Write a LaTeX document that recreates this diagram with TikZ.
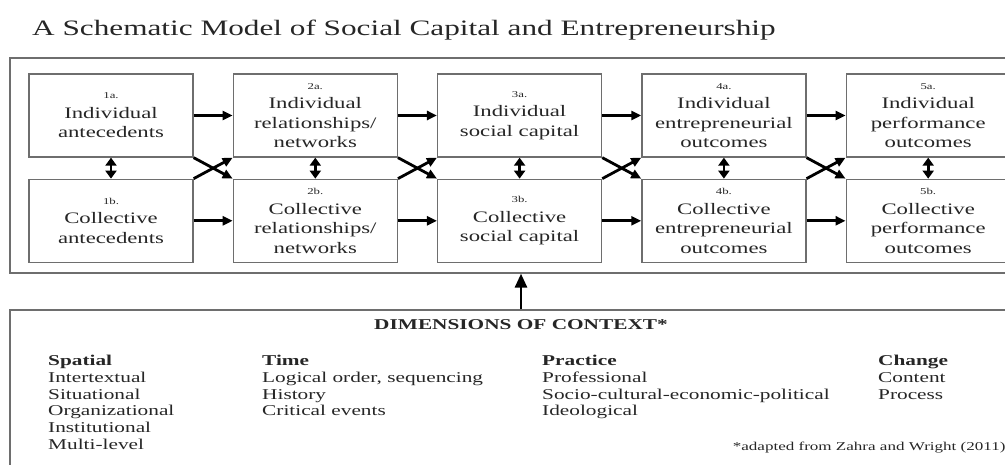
\documentclass[tikz,border=0pt]{standalone}
\usepackage{fontspec}
\setmainfont[FakeStretch=1.42]{Liberation Serif}
\usetikzlibrary{arrows.meta,positioning}
\definecolor{frameline}{HTML}{6E6E6E}
\definecolor{ink}{HTML}{262626}

\newcommand{\stepno}[1]{{\fontsize{9}{11}\selectfont #1}}

\begin{document}
\begin{tikzpicture}[x=1pt, y=-1pt,
  every node/.style={text=ink},
  cell/.style={rectangle, draw=frameline, line width=1.3pt, fill=white,
               minimum width=164pt, minimum height=83pt, align=center,
               inner sep=2pt, font=\fontsize{16}{19.5}\selectfont},
  panel/.style={rectangle, draw=frameline, line width=1.3pt,
                minimum width=1022pt, inner sep=0pt},
  flow/.style={-{Triangle[length=10pt,width=9pt]}, line width=2.8pt},
  link/.style={{Triangle[length=8pt,width=11pt]}-{Triangle[length=8pt,width=11pt]},
               line width=2.8pt},
  col/.style={anchor=north west, align=left, inner sep=0pt,
              font=\fontsize{15}{16.7}\selectfont},
]
\clip (0,0) rectangle (1005,465);

\node[anchor=base west, inner sep=0pt, font=\fontsize{22}{25}\selectfont] (title) at (32,36)
  {A Schematic Model of Social Capital and Entrepreneurship};

% the two outer panels
\node[panel, minimum height=215pt] (frame) at (521,165.5) {};
\node[panel, minimum height=170pt] (context) at (521,395) {};

% individual row
\node[cell] (I1) at (111,115.5) {\stepno{1a.}\\Individual\\antecedents};
\node[cell, right=39pt of I1] (I2) {\stepno{2a.}\\Individual\\relationships/\\networks};
\node[cell, right=39pt of I2] (I3) {\stepno{3a.}\\Individual\\social capital};
\node[cell, right=39pt of I3] (I4) {\stepno{4a.}\\Individual\\entrepreneurial\\outcomes};
\node[cell, right=39pt of I4] (I5) {\stepno{5a.}\\Individual\\performance\\outcomes};

% collective row
\node[cell, below=21pt of I1] (C1) {\stepno{1b.}\\Collective\\antecedents};
\node[cell, below=21pt of I2] (C2) {\stepno{2b.}\\Collective\\relationships/\\networks};
\node[cell, below=21pt of I3] (C3) {\stepno{3b.}\\Collective\\social capital};
\node[cell, below=21pt of I4] (C4) {\stepno{4b.}\\Collective\\entrepreneurial\\outcomes};
\node[cell, below=21pt of I5] (C5) {\stepno{5b.}\\Collective\\performance\\outcomes};

\draw[flow] (I1) -- (I2);
\draw[flow] (I2) -- (I3);
\draw[flow] (I3) -- (I4);
\draw[flow] (I4) -- (I5);
\draw[flow] (C1) -- (C2);
\draw[flow] (C2) -- (C3);
\draw[flow] (C3) -- (C4);
\draw[flow] (C4) -- (C5);

% crossing links between the rows
\draw[flow] (I1.south east) -- (C2.north west);
\draw[flow] (C1.north east) -- (I2.south west);
\draw[flow] (I2.south east) -- (C3.north west);
\draw[flow] (C2.north east) -- (I3.south west);
\draw[flow] (I3.south east) -- (C4.north west);
\draw[flow] (C3.north east) -- (I4.south west);
\draw[flow] (I4.south east) -- (C5.north west);
\draw[flow] (C4.north east) -- (I5.south west);

\draw[link] (I1) -- (C1);
\draw[link] (I2) -- (C2);
\draw[link] (I3) -- (C3);
\draw[link] (I4) -- (C4);
\draw[link] (I5) -- (C5);

\draw[-{Triangle[length=14pt,width=12pt]}, line width=2.8pt] (context.north) -- (frame.south);

% context dimensions
\node[anchor=base, font=\bfseries\fontsize{15}{18}\selectfont] (dims) at (521,330)
  {DIMENSIONS OF CONTEXT*};
\node[col] (spatial) at (48,355)
  {\textbf{Spatial}\\Intertextual\\Situational\\Organizational\\Institutional\\Multi-level};
\node[col] (time) at (262,355)
  {\textbf{Time}\\Logical order, sequencing\\History\\Critical events};
\node[col] (practice) at (542,355)
  {\textbf{Practice}\\Professional\\Socio-cultural-economic-political\\Ideological};
\node[col] (change) at (878,355)
  {\textbf{Change}\\Content\\Process};
\node[anchor=base east, font=\fontsize{12}{14}\selectfont] (source) at (1009,450)
  {*adapted from Zahra and Wright (2011)};

\end{tikzpicture}
\end{document}
